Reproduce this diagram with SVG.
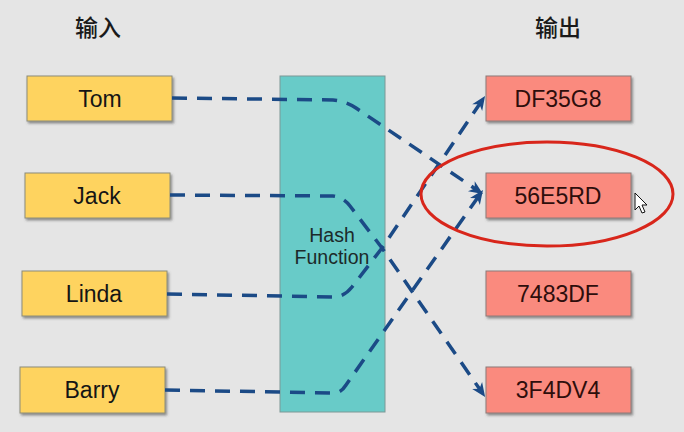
<svg xmlns="http://www.w3.org/2000/svg" width="684" height="432" viewBox="0 0 684 432">
  <defs>
    <filter id="sh" x="-10%" y="-10%" width="130%" height="140%">
      <feDropShadow dx="1.5" dy="2" stdDeviation="1" flood-color="#444" flood-opacity="0.55"/>
    </filter>
    <marker id="arr" markerUnits="userSpaceOnUse" markerWidth="16" markerHeight="14" refX="5" refY="0" viewBox="0 -7 16 14" orient="auto" overflow="visible">
      <path d="M0,-6 L14,0 L0,6 L4,0 z" fill="#1b4a86"/>
    </marker>
    <style>
      .lbl { font-family: "Noto Sans CJK SC", "Liberation Sans", sans-serif; font-size: 23px; font-weight: 500; fill: #1a1a1a; text-anchor: middle; }
      .in rect { fill: #fed35f; stroke: #8c8c7a; stroke-width: 1; filter: url(#sh); }
      .out rect { fill: #fa8a7e; stroke: #8c7a78; stroke-width: 1; filter: url(#sh); }
      .t { font-family: "Liberation Sans", Arial, sans-serif; font-size: 23px; text-anchor: middle; }
      .in text { fill: #151515; }
      .out text { fill: #2e0e0c; }
      .hash rect { fill: #68cbc8; stroke: #7d9896; stroke-width: 1; }
      .hash text { font-family: "Liberation Sans", Arial, sans-serif; font-size: 19.5px; fill: #1c2a2a; text-anchor: middle; }
      .conn path { fill: none; stroke: #1b4a86; stroke-width: 3.5; stroke-dasharray: 15 10; marker-end: url(#arr); }
    </style>
  </defs>
  <rect x="0" y="0" width="684" height="432" fill="#e5e5e5"/>

  <text class="lbl" x="98" y="36">输入</text>
  <text class="lbl" x="558" y="36">输出</text>

  <g id="hash" class="hash">
    <rect x="280" y="76" width="105" height="336"/>
    <text x="332" y="242">Hash</text>
    <text x="332" y="264">Function</text>
  </g>

  <g id="in-tom" class="in"><rect x="27" y="76" width="145" height="45"/><text class="t" x="100" y="106.5">Tom</text></g>
  <g id="in-jack" class="in"><rect x="25" y="173" width="145" height="45"/><text class="t" x="97" y="203.5">Jack</text></g>
  <g id="in-linda" class="in"><rect x="22" y="271" width="145" height="45"/><text class="t" x="94" y="301.5">Linda</text></g>
  <g id="in-barry" class="in"><rect x="20" y="367" width="145" height="46"/><text class="t" x="92" y="398">Barry</text></g>

  <g id="out-df35g8" class="out"><rect x="486" y="76" width="145" height="45"/><text class="t" x="558" y="106.5">DF35G8</text></g>
  <g id="out-56e5rd" class="out"><rect x="486" y="173" width="145" height="45"/><text class="t" x="558" y="203.5">56E5RD</text></g>
  <g id="out-7483df" class="out"><rect x="486" y="271" width="145" height="45"/><text class="t" x="558" y="301.5">7483DF</text></g>
  <g id="out-3f4dv4" class="out"><rect x="486" y="367" width="145" height="46"/><text class="t" x="558" y="398">3F4DV4</text></g>

  <g id="connectors" class="conn">
    <path d="M172,98 L333,100 Q346,101 356,108 L475.5,189"/>
    <path d="M170,195 L333,196 Q343,197 350,206 L382,248 L480,389.6"/>
    <path d="M167,294 L334,297 Q344,297 352,287 L382,248 L480,103.5"/>
    <path d="M165,390 L334,393 Q341,393 346,385 L477.8,197.4"/>
  </g>

  <ellipse id="highlight" cx="547" cy="194" rx="126" ry="52" fill="none" stroke="#d8261b" stroke-width="3"/>

  <path id="cursor" d="M635,193 L635,210 L639,206 L642,213 L645,212 L642,205 L647,205 Z" fill="#ffffff" stroke="#111" stroke-width="1" stroke-linejoin="round"/>
</svg>
